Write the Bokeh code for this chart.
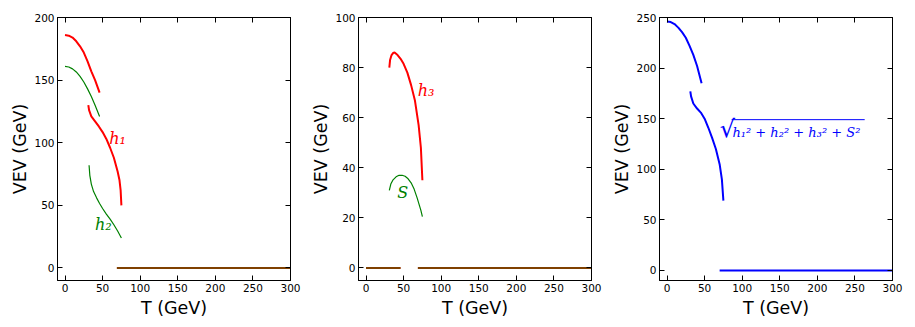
from bokeh.plotting import figure
from bokeh.layouts import row
from bokeh.models import Range1d, LinearAxis, FixedTicker, Label, CustomJSTickFormatter
from bokeh.embed import file_html
from bokeh.resources import INLINE

# ---------------- data ----------------
# Panel 1: h1 (red) and h2 (green)
h1_a_T = [0, 5, 10, 15, 20, 25, 30, 35, 40, 46]
h1_a_v = [186, 185.5, 184, 181, 177, 172, 165, 157, 150, 140]
h1_b_T = [31, 32, 35, 40, 45, 50, 55, 60, 65, 70, 72.5, 74, 75]
h1_b_v = [130, 126, 121, 117, 113, 108.5, 103, 96, 88, 77, 70, 62, 50]
h2_a_T = [0, 5, 10, 15, 20, 25, 30, 35, 40, 46]
h2_a_v = [161, 160.5, 159, 156.5, 153, 148.5, 143, 137, 130, 121]
h2_b_T = [32, 33, 35, 38, 42, 46, 50, 55, 60, 65, 70, 75]
h2_b_v = [82, 74, 67, 61, 56, 51.5, 47.5, 43, 39, 34.5, 29.5, 24]
p1_zero_T = [69, 300]
p1_zero_v = [0, 0]

# Panel 2: h3 (red) and S (green)
h3_T = [31, 32, 34, 36, 38, 42, 46, 50, 55, 60, 65, 70, 73, 75]
h3_v = [80, 83, 85, 85.8, 86, 85, 83.5, 81.5, 78, 73, 67, 57, 48, 35]
S_T = [31, 33, 36, 40, 44, 48, 52, 56, 60, 64, 68, 71, 73, 75]
S_v = [31, 33.5, 35.2, 36.4, 37, 37, 36.6, 35.6, 34, 31.5, 28, 25, 23, 20.5]
p2_zero1_T = [0, 46]
p2_zero2_T = [69, 300]
p2_zero_v = [0, 0]

# Panel 3: total VEV (blue)
tot_a_T = [0, 5, 10, 15, 20, 25, 30, 35, 40, 46]
tot_a_v = [246, 245.5, 243.5, 240, 235.5, 230, 222, 213, 202, 185]
tot_b_T = [31, 32, 35, 40, 45, 50, 55, 60, 65, 70, 73, 75]
tot_b_v = [177, 172, 165, 160, 156, 150, 141, 131, 120, 105, 90, 69]
p3_zero_T = [70, 300]
p3_zero_v = [0, 0]

x_ticks = [0, 50, 100, 150, 200, 250, 300]
y1_ticks = [0, 50, 100, 150, 200]
y2_ticks = [0, 20, 40, 60, 80, 100]
y3_ticks = [0, 50, 100, 150, 200, 250]

RED = "#ff0000"
GREEN = "#008000"
BLUE = "#0000ff"
TICK_FONT = "DejaVu Sans"


def make_fig(width, y_range, y_ticks, left_border, right_border):
    p = figure(width=width, height=324, output_backend="svg", toolbar_location=None,
               x_range=Range1d(-10, 300), y_range=Range1d(*y_range),
               min_border_left=left_border, min_border_right=right_border,
               min_border_top=17, min_border_bottom=44)
    p.grid.visible = False
    p.outline_line_color = "black"
    p.outline_line_width = 1
    p.background_fill_color = "white"
    p.border_fill_color = "white"
    p.xaxis.ticker = FixedTicker(ticks=x_ticks)
    p.yaxis.ticker = FixedTicker(ticks=y_ticks)
    for ax in (p.xaxis[0], p.yaxis[0]):
        ax.major_tick_in = 5
        ax.major_tick_out = 0
        ax.minor_tick_line_color = None
        ax.axis_line_color = "black"
        ax.major_label_text_font = TICK_FONT
        ax.major_label_text_font_size = "10.5px"
        ax.major_label_text_color = "black"
        ax.major_label_standoff = 3
        ax.axis_label_text_font = TICK_FONT
        ax.axis_label_text_font_size = "17.5px"
        ax.axis_label_text_font_style = "normal"
        ax.axis_label_text_color = "black"
        ax.axis_label_standoff = 1
    p.xaxis.axis_label_standoff = 3
    p.xaxis.axis_label = "T (GeV)"
    p.yaxis.axis_label = "VEV (GeV)"
    # mirrored ticks on top and right
    top = LinearAxis(ticker=FixedTicker(ticks=x_ticks),
                     formatter=CustomJSTickFormatter(code="return ''"))
    right = LinearAxis(ticker=FixedTicker(ticks=y_ticks),
                       formatter=CustomJSTickFormatter(code="return ''"))
    for ax in (top, right):
        ax.major_tick_in = 5
        ax.major_tick_out = 0
        ax.minor_tick_line_color = None
        ax.major_label_standoff = 0
        ax.major_label_text_font_size = "1px"
        ax.axis_line_color = "black"
    p.add_layout(top, "above")
    p.add_layout(right, "right")
    return p


def math_label(p, x, y, text, color, size="16px"):
    p.add_layout(Label(x=x, y=y, text=text, text_color=color,
                       text_font="DejaVu Serif", text_font_style="italic",
                       text_font_size=size, text_align="center",
                       text_baseline="middle"))


# Panel 1
p1 = make_fig(306, (-10, 200), y1_ticks, 57, 16)
p1.line(h1_a_T, h1_a_v, line_color=RED, line_width=2)
p1.line(h1_b_T, h1_b_v, line_color=RED, line_width=2)
p1.line(h2_a_T, h2_a_v, line_color=GREEN, line_width=1.2)
p1.line(h2_b_T, h2_b_v, line_color=GREEN, line_width=1.2)
p1.line(p1_zero_T, p1_zero_v, line_color=RED, line_width=2)
p1.line(p1_zero_T, p1_zero_v, line_color=GREEN, line_width=1.2)
math_label(p1, 70, 103, "h₁", RED)
math_label(p1, 51, 35, "h₂", GREEN)

# Panel 2
p2 = make_fig(301, (-5, 100), y2_ticks, 52, 16)
p2.line(h3_T, h3_v, line_color=RED, line_width=2)
p2.line(S_T, S_v, line_color=GREEN, line_width=1.2)
p2.line(p2_zero1_T, p2_zero_v, line_color=RED, line_width=2)
p2.line(p2_zero2_T, p2_zero_v, line_color=RED, line_width=2)
p2.line(p2_zero1_T, p2_zero_v, line_color=GREEN, line_width=1.2)
p2.line(p2_zero2_T, p2_zero_v, line_color=GREEN, line_width=1.2)
math_label(p2, 80, 71, "h₃", RED)
math_label(p2, 49, 30, "S", GREEN)

# Panel 3
p3 = make_fig(303, (-10, 250), y3_ticks, 52, 18)
p3.line(tot_a_T, tot_a_v, line_color=BLUE, line_width=2)
p3.line(tot_b_T, tot_b_v, line_color=BLUE, line_width=2)
p3.line(p3_zero_T, p3_zero_v, line_color=BLUE, line_width=2)
p3.add_layout(Label(x=70, y=126, text="√", text_color=BLUE, text_font="DejaVu Serif",
                    text_font_size="24px", text_align="left", text_baseline="bottom"))
p3.add_layout(Label(x=87, y=136, text="h₁² + h₂² + h₃² + S²", text_color=BLUE,
                    text_font="DejaVu Serif", text_font_style="italic",
                    text_font_size="13px", text_align="left", text_baseline="alphabetic"))
p3.segment(x0=[86], y0=[149], x1=[263], y1=[149], line_color=BLUE, line_width=1)

layout = row(p1, p2, p3)
open("out.html", "w").write(file_html(layout, INLINE))
